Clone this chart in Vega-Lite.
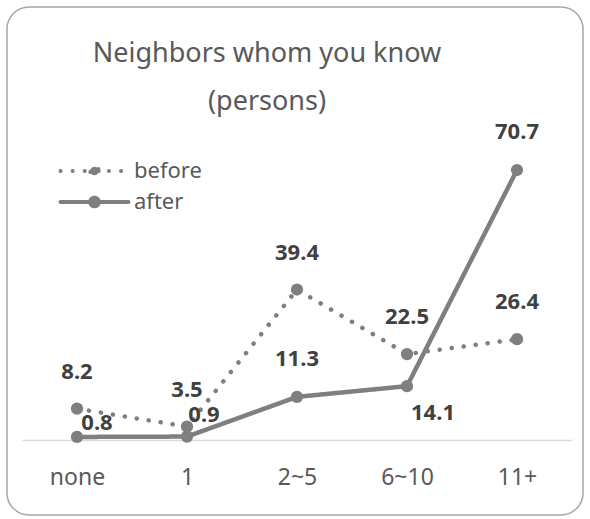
{
  "$schema": "https://vega.github.io/schema/vega-lite/v6.json",
  "width": 576,
  "height": 508,
  "autosize": "none",
  "padding": {"left": 7, "top": 7, "right": 7, "bottom": 4},
  "background": "white",
  "config": {
    "font": "Noto Sans",
    "view": {"stroke": "#a6a6a6", "strokeWidth": 1.5, "cornerRadius": 22}
  },
  "title": {
    "text": ["Neighbors whom you know", "(persons)"],
    "fontSize": 27,
    "fontWeight": "normal",
    "color": "#595959",
    "lineHeight": 48,
    "anchor": "middle",
    "frame": "group",
    "dx": -28,
    "offset": -109,
    "baseline": "top"
  },
  "data": {
    "values": [
      {"category": "none", "series": "before", "value": 8.2},
      {"category": "1", "series": "before", "value": 3.5},
      {"category": "2~5", "series": "before", "value": 39.4},
      {"category": "6~10", "series": "before", "value": 22.5},
      {"category": "11+", "series": "before", "value": 26.4},
      {"category": "none", "series": "after", "value": 0.8},
      {"category": "1", "series": "after", "value": 0.9},
      {"category": "2~5", "series": "after", "value": 11.3},
      {"category": "6~10", "series": "after", "value": 14.1},
      {"category": "11+", "series": "after", "value": 70.7}
    ]
  },
  "encoding": {
    "x": {
      "field": "category",
      "type": "ordinal",
      "sort": ["none", "1", "2~5", "6~10", "11+"],
      "scale": {"type": "point", "range": [15, 565], "padding": 0.5},
      "axis": {
        "title": null,
        "orient": "bottom",
        "offset": -75,
        "ticks": false,
        "grid": false,
        "domainColor": "#d9d9d9",
        "domainWidth": 1.3,
        "labelAngle": 0,
        "labelFontSize": 23,
        "labelColor": "#595959",
        "labelPadding": 26
      }
    },
    "y": {
      "field": "value",
      "type": "quantitative",
      "scale": {"domain": [0, 80], "range": [433, 127.5], "nice": false, "zero": false},
      "axis": null
    }
  },
  "layer": [
    {
      "mark": {"type": "line", "color": "#7f7f7f", "strokeWidth": 4.5, "strokeCap": "round"},
      "encoding": {
        "strokeDash": {
          "field": "series",
          "type": "nominal",
          "scale": {"domain": ["before", "after"], "range": [[0.1, 12], [1, 0]]},
          "legend": {
            "title": null,
            "orient": "none",
            "legendX": 76.5,
            "legendY": 153,
            "padding": 0,
            "rowPadding": 5,
            "symbolType": "M-4,0L4,0M0.5,0A0.5,0.5,0,1,1,-0.5,0A0.5,0.5,0,1,1,0.5,0Z",
            "symbolSize": 289,
            "symbolStrokeWidth": 4,
            "symbolStrokeColor": "#7f7f7f",
            "symbolFillColor": "#7f7f7f",
            "labelFontSize": 22,
            "labelColor": "#595959",
            "labelOffset": 28.5,
            "encode": {
              "symbols": {
                "update": {
                  "fill": {"value": "#7f7f7f"},
                  "stroke": {"value": "#7f7f7f"},
                  "strokeWidth": {"value": 4},
                  "strokeCap": {"value": "round"}
                }
              }
            }
          }
        }
      }
    },
    {
      "mark": {"type": "point", "filled": true, "size": 150, "color": "#7f7f7f", "opacity": 1},
      "encoding": {"detail": {"field": "series"}}
    },
    {
      "transform": [{"filter": "datum.series === 'before'"}],
      "mark": {"type": "text", "fontSize": 22, "fontWeight": "bold", "color": "#404040", "baseline": "middle", "dy": -37},
      "encoding": {"text": {"field": "value", "type": "quantitative", "format": ".1f"}}
    },
    {
      "transform": [{"filter": "datum.series === 'after' && (datum.category === '2~5' || datum.category === '11+')"}],
      "mark": {"type": "text", "fontSize": 22, "fontWeight": "bold", "color": "#404040", "baseline": "middle", "dy": -38},
      "encoding": {"text": {"field": "value", "type": "quantitative", "format": ".1f"}}
    },
    {
      "transform": [{"filter": "datum.series === 'after' && datum.category === 'none'"}],
      "mark": {"type": "text", "fontSize": 22, "fontWeight": "bold", "color": "#404040", "baseline": "middle", "dx": 20, "dy": -14},
      "encoding": {"text": {"field": "value", "type": "quantitative", "format": ".1f"}}
    },
    {
      "transform": [{"filter": "datum.series === 'after' && datum.category === '1'"}],
      "mark": {"type": "text", "fontSize": 22, "fontWeight": "bold", "color": "#404040", "baseline": "middle", "dx": 17, "dy": -22},
      "encoding": {"text": {"field": "value", "type": "quantitative", "format": ".1f"}}
    },
    {
      "transform": [{"filter": "datum.series === 'after' && datum.category === '6~10'"}],
      "mark": {"type": "text", "fontSize": 22, "fontWeight": "bold", "color": "#404040", "baseline": "middle", "dx": 26, "dy": 27},
      "encoding": {"text": {"field": "value", "type": "quantitative", "format": ".1f"}}
    }
  ]
}
